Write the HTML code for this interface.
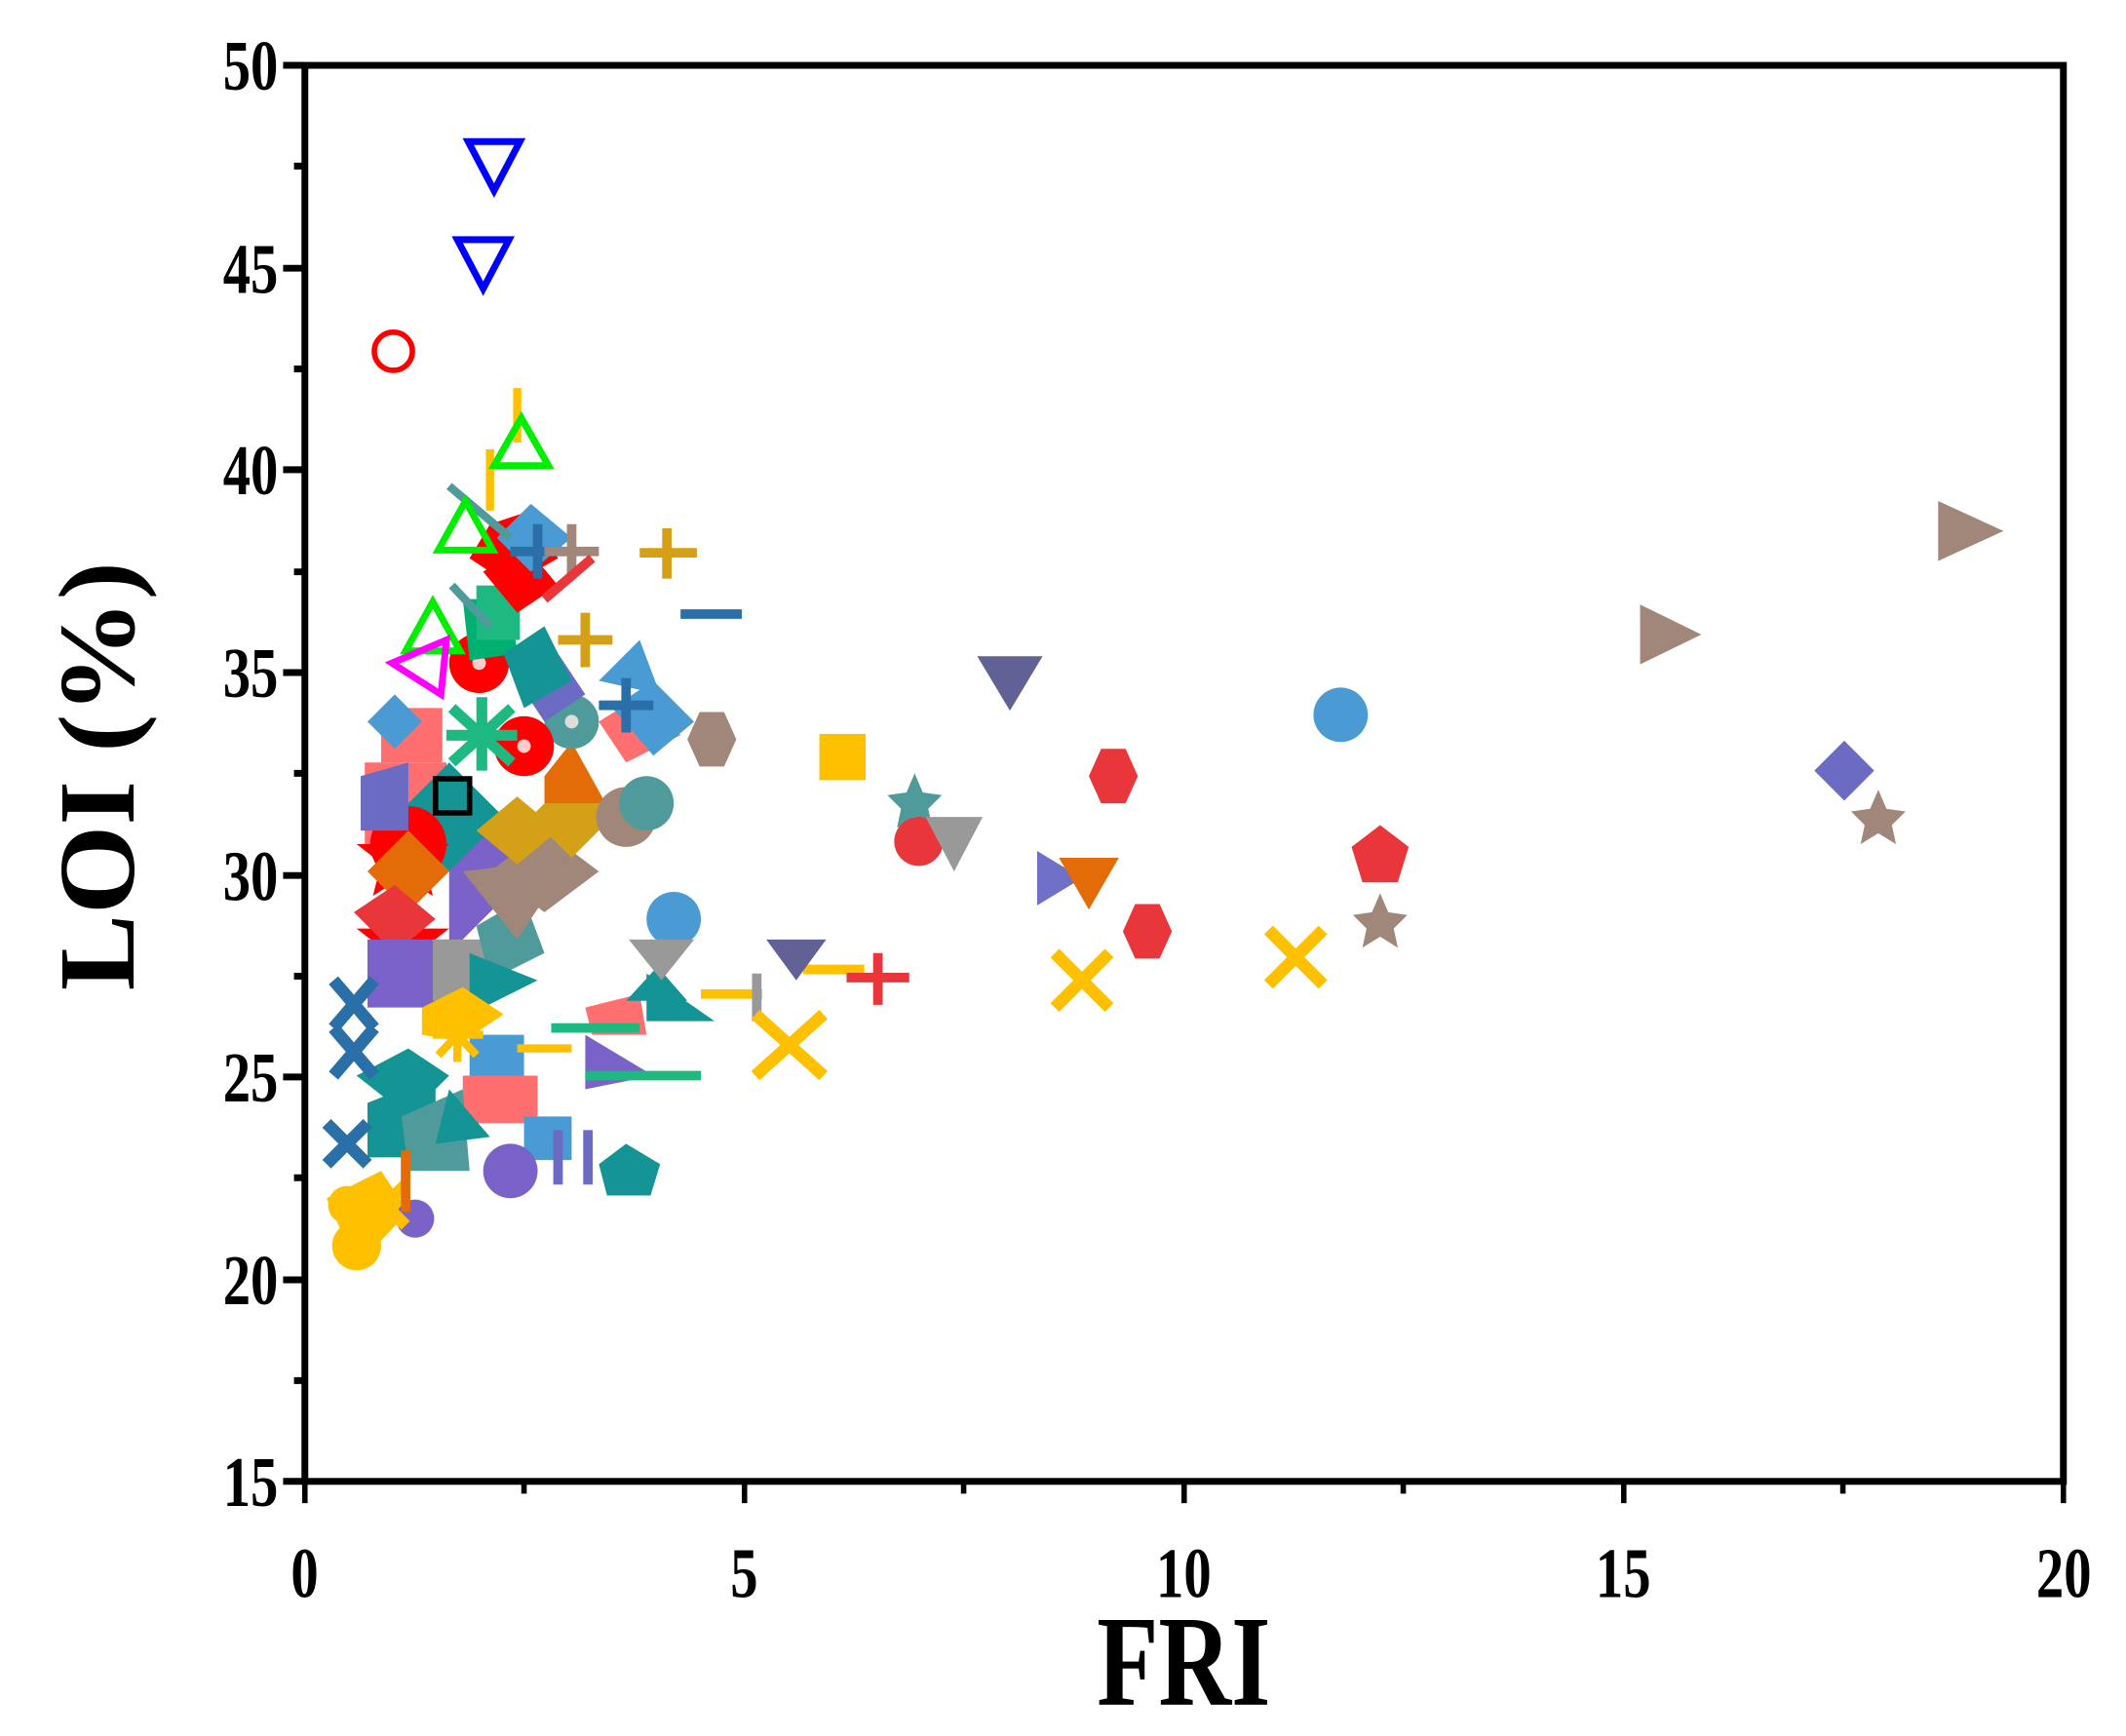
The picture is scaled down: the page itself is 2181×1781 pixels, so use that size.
<!DOCTYPE html>
<html><head><style>html,body{margin:0;padding:0;background:#fff}svg{display:block}</style></head>
<body>
<svg width="2181" height="1781" viewBox="0 0 1562 1275" preserveAspectRatio="none" xmlns="http://www.w3.org/2000/svg">
<rect width="1562" height="1275" fill="#fff"/>
<g stroke-linecap="butt">
<g>
<rect x="268" y="560" width="60" height="60" fill="#ff6f6f"/>
<polygon points="330,590 390,640 330,700" fill="#7a62c8"/>
<polygon points="290,600 330,560 370,600 330,640" fill="#149494"/>
<circle cx="300" cy="620" r="28" fill="#ff0000"/>
<polygon points="296,598 306,620 330,620 312,634 318,658 296,644 274,658 280,634 262,620 286,620" fill="#ff0000"/>
<polygon points="296,660 306,682 330,682 312,696 318,720 296,706 274,720 280,696 262,682 286,682" fill="#ff0000"/>
<polygon points="360,640 400,610 440,640 400,670" fill="#a0877a"/>
<polygon points="390,600 420,570 450,600 420,630" fill="#d4a017"/>
<polygon points="350,610 380,585 410,610 380,635" fill="#d4a017"/>
<polygon points="400,570 420,545 445,590 400,590" fill="#e36c09"/>
<circle cx="460" cy="600" r="22" fill="#a0877a"/>
<circle cx="475" cy="590" r="20" fill="#4f9a9a"/>
<polygon points="440,530 480,505 500,540 460,560" fill="#ff6f6f"/>
<polygon points="450,520 480,500 510,530 480,555" fill="#4a9bd4"/>
<polygon points="440,500 470,470 485,510" fill="#4a9bd4"/>
<circle cx="420" cy="530" r="20" fill="#4f9a9a"/>
<circle cx="420" cy="530" r="5" fill="#ddd"/>
<polygon points="380,500 410,480 430,510 400,530" fill="#6b6bc4"/>
<circle cx="385" cy="548" r="22" fill="#ff0000"/>
<circle cx="385" cy="548" r="5" fill="#fcc"/>
<circle cx="352" cy="487" r="22" fill="#ff0000"/>
<circle cx="352" cy="487" r="5" fill="#fcc"/>
<polygon points="340,440 375,440 380,480 345,485" fill="#00b070"/>
<polygon points="370,480 400,460 420,500 385,520" fill="#149494"/>
<rect x="350" y="430" width="32" height="40" fill="#1db980"/>
<polygon points="360,385 390,375 410,410 375,430 345,410" fill="#ff0000"/>
<polygon points="355,420 385,400 410,430 380,450" fill="#ff0000"/>
<polygon points="365,395 390,370 420,395 390,420" fill="#4a9bd4"/>
<polygon points="265,570 300,560 300,610 265,610" fill="#6b6bc4"/>
<polygon points="270,640 300,610 330,640 300,670" fill="#e36c09"/>
<polygon points="260,670 290,650 320,675 290,700" fill="#e8363a"/>
<rect x="280" y="520" width="45" height="40" fill="#ff6f6f"/>
<polygon points="290,510 310,530 290,550 270,530" fill="#4a9bd4"/>
<polygon points="270,690 330,690 330,740 270,740" fill="#7a62c8"/>
<rect x="318" y="690" width="40" height="45" fill="#999"/>
<polygon points="350,680 385,660 400,700 360,720" fill="#4f9a9a"/>
<polygon points="340,640 420,630 380,690" fill="#a0877a"/>
<polygon points="345,700 395,720 345,745" fill="#149494"/>
<polygon points="310,740 340,725 370,745 340,765 310,760" fill="#ffc000"/>
<rect x="345" y="760" width="40" height="40" fill="#4a9bd4"/>
<rect x="340" y="790" width="55" height="35" fill="#ff6f6f"/>
<polygon points="262,790 300,770 330,790 300,820" fill="#149494"/>
<polygon points="270,810 320,790 320,850 270,850" fill="#149494"/>
<polygon points="295,820 340,800 345,860 300,860" fill="#4f9a9a"/>
<polygon points="330,800 360,835 320,840" fill="#149494"/>
<rect x="385" y="820" width="35" height="32" fill="#4a9bd4"/>
<circle cx="375" cy="860" r="20" fill="#7a62c8"/>
<polygon points="430,760 480,790 430,800" fill="#7a62c8"/>
<polygon points="430,740 470,730 475,760 435,760" fill="#ff6f6f"/>
<polygon points="460,735 505,735 483,710" fill="#149494"/>
<circle cx="495" cy="675" r="20" fill="#4a9bd4"/>
<polygon points="462,690 510,690 486,720" fill="#999"/>
<polygon points="475,715 525,750 475,750" fill="#149494"/>
<polygon points="460,840 485,855 478,878 446,878 440,855" fill="#149494"/>
<polygon points="240,880 280,860 300,890 262,930" fill="#ffc000"/>
<circle cx="262" cy="915" r="18" fill="#ffc000"/>
<circle cx="255" cy="885" r="14" fill="#ffc000"/>
<circle cx="305" cy="895" r="14" fill="#7a62c8"/>
</g>
<g fill="none" stroke-width="9">
<path d="M245,720 L275,755 M275,720 L245,755" stroke="#2a6fa8"/>
<path d="M245,755 L275,790 M275,755 L245,790" stroke="#2a6fa8"/>
<path d="M240,825 L270,855 M270,825 L240,855" stroke="#2a6fa8"/>
<path d="M268,870 L298,900 M298,870 L268,900" stroke="#ffc000"/>
<path d="M298,845 L298,890" stroke="#e36c09" stroke-width="7"/>
<path d="M405,755 L470,755 M430,790 L515,790" stroke="#1db980" stroke-width="7"/>
<path d="M410,830 L410,870 M432,830 L432,870" stroke="#6b6bc4" stroke-width="7"/>
<path d="M515,730 L560,730" stroke="#ffc000" stroke-width="7"/>
<path d="M556,715 L556,750" stroke="#999" stroke-width="7"/>
<path d="M590,712 L635,712" stroke="#ffc000" stroke-width="7"/>
<path d="M622,718 L668,718 M645,700 L645,738" stroke="#e8363a" stroke-width="7"/>
<path d="M500,451 L545,451" stroke="#2a6fa8" stroke-width="7"/>
<path d="M470,406 L512,406 M490,388 L490,425" stroke="#d4a017" stroke-width="7"/>
<path d="M410,470 L450,470 M430,450 L430,490" stroke="#d4a017" stroke-width="7"/>
<path d="M440,518 L480,518 M460,498 L460,538" stroke="#2a6fa8" stroke-width="7"/>
<path d="M375,405 L415,405 M395,385 L395,425" stroke="#2a6fa8" stroke-width="7"/>
<path d="M400,405 L440,405 M420,385 L420,425" stroke="#a0877a" stroke-width="7"/>
<path d="M400,440 L435,410" stroke="#e8363a" stroke-width="7"/>
<path d="M330,357 L375,395 M332,430 L360,460" stroke="#4f9a9a" stroke-width="6"/>
<path d="M360,330 L360,375 M380,285 L380,325" stroke="#ffc000" stroke-width="6"/>
<path d="M318,760 L355,760 M336,740 L336,780 M322,745 L350,775 M350,745 L322,775" stroke="#ffc000" stroke-width="6"/>
<path d="M380,770 L420,770" stroke="#ffc000" stroke-width="6"/>
<path d="M555,745 L605,790 M605,745 L555,790" stroke="#ffc000" stroke-width="9"/>
<path d="M775,700 L815,740 M815,700 L775,740" stroke="#ffc000" stroke-width="9"/>
<path d="M932,683 L972,723 M972,683 L932,723" stroke="#ffc000" stroke-width="9"/>
<path d="M332,520 L376,560 M376,520 L332,560 M354,512 L354,566 M328,540 L380,540" stroke="#1db980" stroke-width="8"/>
</g>
<polygon points="1424,368 1472,390 1424,412" fill="#a0877a"/>
<polygon points="1205,444 1250,466 1205,488" fill="#a0877a"/>
<circle cx="985" cy="525" r="20" fill="#4a9bd4"/>
<polygon points="718,482 766,482 742,522" fill="#616196"/>
<polygon points="800,570 809,550 827,550 836,570 827,590 809,590" fill="#e8363a"/>
<polygon points="825,684 834,664 852,664 861,684 852,704 834,704" fill="#e8363a"/>
<polygon points="1014,606 1035,622 1027,648 1001,648 993,622" fill="#e8363a"/>
<polygon points="1355,544 1377,566 1355,588 1333,566" fill="#6b6bc4"/>
<polygon points="1380,580 1386,594 1400,596 1390,606 1393,620 1380,612 1367,620 1370,606 1360,596 1374,594" fill="#a0877a"/>
<polygon points="1014,656 1020,670 1034,672 1024,682 1027,696 1014,688 1001,696 1004,682 994,672 1008,670" fill="#a0877a"/>
<polygon points="672,568 678,582 692,584 682,594 685,608 672,600 659,608 662,594 652,584 666,582" fill="#4f9a9a"/>
<rect x="602" y="539" width="34" height="34" fill="#ffc000"/>
<circle cx="675" cy="618" r="18" fill="#e8363a"/>
<polygon points="680,600 722,600 701,640" fill="#999"/>
<polygon points="762,625 795,645 762,665" fill="#7070c8"/>
<polygon points="778,630 822,630 800,668" fill="#e36c09"/>
<polygon points="563,690 607,690 585,720" fill="#616196"/>
<polygon points="505,543 514,523 532,523 541,543 532,563 514,563" fill="#a0877a"/>
<g fill="none">
<polygon points="344,104 382,104 363,140" stroke="#0000ff" stroke-width="5"/>
<polygon points="336,176 374,176 355,212" stroke="#0000ff" stroke-width="5"/>
<circle cx="289" cy="258" r="14" stroke="#ff0000" stroke-width="4"/>
<polygon points="383,307 403,342 363,342" stroke="#00ee00" stroke-width="5"/>
<polygon points="342,368 362,404 322,404" stroke="#00ee00" stroke-width="5"/>
<polygon points="318,442 338,478 298,478" stroke="#00ee00" stroke-width="5"/>
<polygon points="288,487 328,470 324,510" stroke="#ff00ff" stroke-width="5"/>
<rect x="320" y="572" width="25" height="25" stroke="#000" stroke-width="4"/>
</g>
</g>
<g stroke="#000" fill="none">
<rect x="224" y="48" width="1292" height="1040" stroke-width="5"/>
<path stroke-width="5" d="M208,48H224M208,197H224M208,345H224M208,494H224M208,643H224M208,791H224M208,940H224M208,1088H224M216,122H224M216,271H224M216,420H224M216,568H224M216,717H224M216,865H224M216,1014H224"/>
<path stroke-width="4" d="M224,1088V1104M547,1088V1104M870,1088V1104M1193,1088V1104M1516,1088V1104M385,1088V1097M708,1088V1097M1031,1088V1097M1354,1088V1097"/>
</g>
<g font-family="'Liberation Serif',serif" font-weight="bold" fill="#000" font-size="52">
<g text-anchor="end" transform="scale(0.78,1)">
<text x="262" y="66">50</text><text x="262" y="215">45</text><text x="262" y="363">40</text><text x="262" y="512">35</text><text x="262" y="661">30</text><text x="262" y="809">25</text><text x="262" y="958">20</text><text x="262" y="1106">15</text>
</g>
<g text-anchor="middle" transform="scale(0.78,1)">
<text x="287" y="1173">0</text><text x="701" y="1173">5</text><text x="1115" y="1173">10</text><text x="1529" y="1173">15</text><text x="1944" y="1173">20</text>
<text x="1115" y="1252" font-size="95">FRI</text>
</g>
<text transform="translate(98,570) rotate(-90) scale(1,0.95)" text-anchor="middle" font-size="84">LOI (%)</text>
</g>
</svg>
</body></html>
